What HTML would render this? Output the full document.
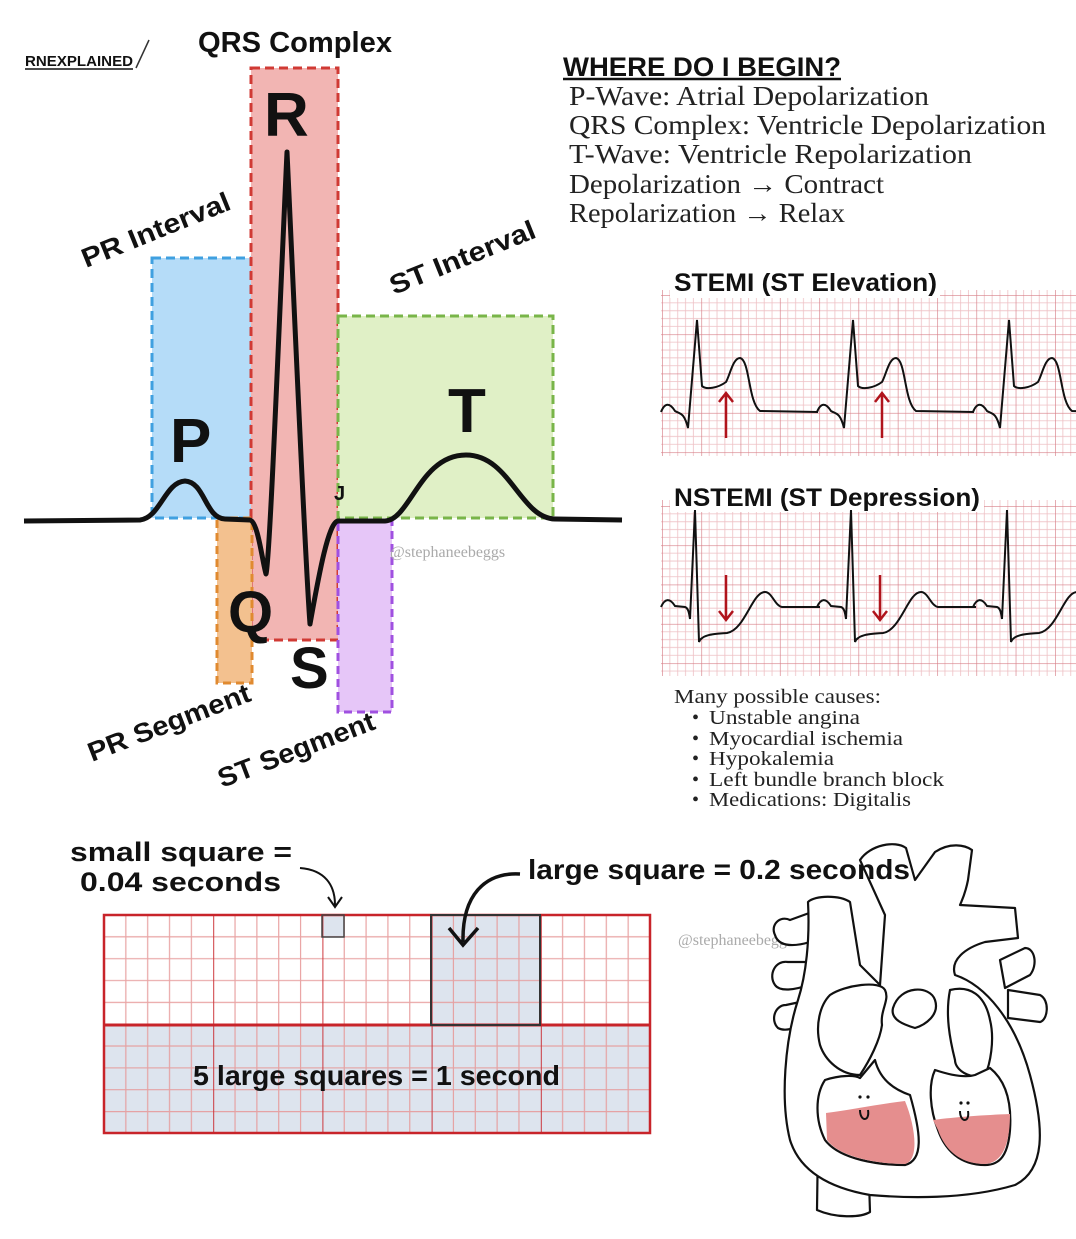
<!DOCTYPE html>
<html><head><meta charset="utf-8"><style>
html,body{margin:0;padding:0;background:#fff}
svg{display:block}
.b{font-family:"Liberation Sans",sans-serif;font-weight:bold;fill:#111}
.s{font-family:"Liberation Serif",serif;fill:#222}
</style></head><body>
<svg width="1076" height="1239" viewBox="0 0 1076 1239" xmlns="http://www.w3.org/2000/svg">
<defs>
<pattern id="ecg" x="662" y="295" width="39.3" height="39.3" patternUnits="userSpaceOnUse">
<path d="M7.86 0V39.3M15.72 0V39.3M23.58 0V39.3M31.44 0V39.3M0 7.86H39.3M0 15.72H39.3M0 23.58H39.3M0 31.44H39.3" stroke="#eec0c4" stroke-width="0.8"/>
<path d="M0 0V39.3M0 0H39.3" stroke="#d77f88" stroke-width="1.3"/>
</pattern>
<pattern id="ecg2" x="662" y="506" width="39.3" height="39.3" patternUnits="userSpaceOnUse">
<path d="M7.86 0V39.3M15.72 0V39.3M23.58 0V39.3M31.44 0V39.3M0 7.86H39.3M0 15.72H39.3M0 23.58H39.3M0 31.44H39.3" stroke="#eec0c4" stroke-width="0.8"/>
<path d="M0 0V39.3M0 0H39.3" stroke="#d77f88" stroke-width="1.3"/>
</pattern>
<pattern id="big" x="104" y="915" width="109.2" height="109.2" patternUnits="userSpaceOnUse">
<path d="M21.84 0V109.2M43.68 0V109.2M65.52 0V109.2M87.36 0V109.2M0 21.84H109.2M0 43.68H109.2M0 65.52H109.2M0 87.36H109.2" stroke="#e69a9a" stroke-width="1.2"/>
<path d="M0 0V109.2M0 0H109.2" stroke="#c8242a" stroke-width="2"/>
</pattern>
</defs>

<!-- logo -->
<text x="25" y="66" class="b" font-size="15" textLength="108" lengthAdjust="spacingAndGlyphs">RNEXPLAINED</text>
<path d="M25 69 H133" stroke="#111" stroke-width="1.5"/>
<path d="M136 68 L149 40" stroke="#333" stroke-width="1.5"/>

<!-- boxes -->
<rect x="152" y="258" width="100" height="260" fill="#b5dcf8" stroke="#3fa0e0" stroke-width="3" stroke-dasharray="9,5"/>
<rect x="251" y="68" width="87" height="572" fill="#f2b5b3" stroke="#d03a34" stroke-width="3" stroke-dasharray="9,5"/>
<rect x="338" y="316" width="215" height="202" fill="#e0f0c6" stroke="#79b549" stroke-width="3" stroke-dasharray="9,5"/>
<rect x="217" y="518" width="35" height="165" fill="#f3c18f" stroke="#e08a30" stroke-width="3" stroke-dasharray="8,5"/>
<rect x="338" y="520" width="54" height="192" fill="#e6c6f8" stroke="#a050e0" stroke-width="3" stroke-dasharray="8,5"/>

<!-- main ECG -->
<path d="M24 521 L140 520 C160 518 165 482 185 481 C205 482 205 518 225 519 L250 520 C258 522 262 560 266 574 C270 560 280 300 287 152 C294 300 305 560 310 624 C318 580 328 522 338 521 L385 521 C410 520 420 455 466 455 C510 455 520 518 555 519 L622 520" fill="none" stroke="#111" stroke-width="5" stroke-linejoin="round"/>

<text x="198" y="52" class="b" font-size="29" textLength="194" lengthAdjust="spacingAndGlyphs">QRS Complex</text>
<text x="264" y="136" class="b" font-size="62">R</text>
<text x="170" y="462" class="b" font-size="62">P</text>
<text x="448" y="432" class="b" font-size="62">T</text>
<text x="228" y="632" class="b" font-size="58">Q</text>
<text x="290" y="688" class="b" font-size="58">S</text>
<text x="334" y="500" class="b" font-size="20">J</text>
<text class="b" font-size="27" transform="translate(86 268) rotate(-22)" textLength="158" lengthAdjust="spacingAndGlyphs">PR Interval</text>
<text class="b" font-size="27" transform="translate(394 295) rotate(-22)" textLength="155" lengthAdjust="spacingAndGlyphs">ST Interval</text>
<text class="b" font-size="27" transform="translate(92 762) rotate(-21)" textLength="172" lengthAdjust="spacingAndGlyphs">PR Segment</text>
<text class="b" font-size="27" transform="translate(222 788) rotate(-21)" textLength="166" lengthAdjust="spacingAndGlyphs">ST Segment</text>
<text x="390" y="557" class="s" font-size="16" style="fill:#aaa">@stephaneebeggs</text>

<!-- right text -->
<text x="563" y="76" class="b" font-size="27" textLength="278" lengthAdjust="spacingAndGlyphs">WHERE DO I BEGIN?</text>
<path d="M563 79 H841" stroke="#111" stroke-width="2.5"/>
<g class="s" font-size="27">
<text x="569" y="105" textLength="360" lengthAdjust="spacingAndGlyphs">P-Wave: Atrial Depolarization</text>
<text x="569" y="134" textLength="477" lengthAdjust="spacingAndGlyphs">QRS Complex: Ventricle Depolarization</text>
<text x="569" y="163" textLength="403" lengthAdjust="spacingAndGlyphs">T-Wave: Ventricle Repolarization</text>
<text x="569" y="193" textLength="315" lengthAdjust="spacingAndGlyphs">Depolarization → Contract</text>
<text x="569" y="222" textLength="276" lengthAdjust="spacingAndGlyphs">Repolarization → Relax</text>
</g>

<!-- STEMI -->
<rect x="661" y="290" width="415" height="166" fill="url(#ecg)"/>
<rect x="670" y="262" width="270" height="36" fill="#fff"/>
<text x="674" y="291" class="b" font-size="25" textLength="263" lengthAdjust="spacingAndGlyphs">STEMI (ST Elevation)</text>
<g fill="none" stroke="#111" stroke-width="2">
<path id="st1" d="M661 412 C665 402 670 403 675 411 C680 414 684 412 688 428 L697 320 L702 386 C706 390 718 388 726 382 C730 375 733 358 740 358 C750 360 748 402 760 411 L818 412"/>
<use href="#st1" transform="translate(156 0)"/>
<use href="#st1" transform="translate(312 0)"/>
</g>
<g stroke="#b0141c" stroke-width="2.5" fill="none">
<path d="M726 438V394M719 402L726 393L733 402"/>
<path d="M882 438V394M875 402L882 393L889 402"/>
</g>

<!-- NSTEMI -->
<rect x="661" y="500" width="415" height="176" fill="url(#ecg2)"/>
<rect x="670" y="478" width="314" height="34" fill="#fff"/>
<text x="674" y="506" class="b" font-size="25" textLength="306" lengthAdjust="spacingAndGlyphs">NSTEMI (ST Depression)</text>
<g fill="none" stroke="#111" stroke-width="2">
<path id="ns1" d="M661 607 C665 598 670 598 675 606 L685 607 C688 608 689 612 690 619 L695 510 L699 642 C702 634 715 634 727 633 C745 630 752 592 765 592 C772 592 775 606 782 607 L820 607"/>
<use href="#ns1" transform="translate(156 0)"/>
<use href="#ns1" transform="translate(312 0)"/>
</g>
<g stroke="#b0141c" stroke-width="2.5" fill="none">
<path d="M726 575V619M719 611L726 620L733 611"/>
<path d="M880 575V619M873 611L880 620L887 611"/>
</g>

<g class="s" font-size="20">
<text x="674" y="703" textLength="207" lengthAdjust="spacingAndGlyphs">Many possible causes:</text>
<text x="692" y="724">•</text><text x="709" y="724" textLength="151" lengthAdjust="spacingAndGlyphs">Unstable angina</text>
<text x="692" y="745">•</text><text x="709" y="745" textLength="194" lengthAdjust="spacingAndGlyphs">Myocardial ischemia</text>
<text x="692" y="765">•</text><text x="709" y="765" textLength="125" lengthAdjust="spacingAndGlyphs">Hypokalemia</text>
<text x="692" y="786">•</text><text x="709" y="786" textLength="235" lengthAdjust="spacingAndGlyphs">Left bundle branch block</text>
<text x="692" y="806">•</text><text x="709" y="806" textLength="202" lengthAdjust="spacingAndGlyphs">Medications: Digitalis</text>
</g>

<!-- bottom grid -->
<rect x="104" y="1025" width="546" height="108" fill="#dde4ee"/>
<rect x="431" y="915" width="109" height="110" fill="#dde4ee"/>
<rect x="322" y="915" width="22" height="22" fill="#dde4ee"/>
<rect x="104" y="915" width="546" height="218" fill="url(#big)" opacity="0.9"/>
<rect x="104" y="915" width="546" height="218" fill="none" stroke="#c8242a" stroke-width="2.5"/>
<path d="M104 1025H650" stroke="#c8242a" stroke-width="3"/>
<rect x="431" y="915" width="109" height="110" fill="none" stroke="#333" stroke-width="2"/>
<rect x="322" y="915" width="22" height="22" fill="none" stroke="#444" stroke-width="1.5"/>
<text x="193" y="1085" class="b" font-size="28" textLength="367" lengthAdjust="spacingAndGlyphs">5 large squares = 1 second</text>

<text x="70" y="861" class="b" font-size="27" textLength="222" lengthAdjust="spacingAndGlyphs">small square =</text>
<text x="80" y="891" class="b" font-size="27" textLength="201" lengthAdjust="spacingAndGlyphs">0.04 seconds</text>
<path d="M300 868 C325 870 335 885 335 905 M328 897 L335 907 L342 897" fill="none" stroke="#111" stroke-width="2"/>
<text x="678" y="945" class="s" font-size="16" style="fill:#aaa">@stephaneebeggs</text>

<!-- heart -->
<g fill="#fff" stroke="#111" stroke-width="2.2" stroke-linejoin="round">
<path d="M790 920 C780 915 770 925 775 935 C778 945 790 948 810 942 L812 912 Z"/>
<path d="M788 962 C775 960 768 975 775 985 C780 992 795 990 808 985 L806 962 Z"/>
<path d="M786 1005 C775 1005 770 1020 778 1028 C785 1032 795 1028 802 1025 L800 1002 Z"/>
<path d="M1000 960 L1025 948 C1035 948 1038 965 1030 975 L1005 988 Z"/>
<path d="M1008 990 L1040 995 C1050 1000 1048 1020 1040 1022 L1008 1018 Z"/>
<path d="M818 1140 L817 1210 C835 1218 860 1218 870 1212 L868 1150 Z"/>
<path d="M808 902 C815 895 840 895 850 902 L860 965 L880 985 L885 915 L860 860 C870 845 895 840 906 848 L915 880 L935 852 C950 842 965 845 972 850 L968 880 C965 895 962 900 960 905 L1015 908 L1018 938 L985 942 C965 948 950 960 955 975 C985 985 1015 1020 1030 1075 C1045 1130 1045 1170 1015 1185 C965 1200 905 1198 870 1195 C830 1188 800 1172 790 1140 C780 1100 785 1040 798 1000 C806 975 810 940 808 902 Z"/>
<path d="M830 995 C845 985 880 980 885 990 C890 1000 880 1010 882 1025 C880 1040 870 1060 860 1075 C840 1075 825 1060 820 1045 C815 1025 820 1005 830 995 Z"/>
<path d="M893 1008 C900 985 930 985 935 1000 C940 1015 925 1025 915 1028 C905 1025 890 1020 893 1008 Z"/>
<path d="M950 990 C970 985 985 995 990 1020 C995 1040 990 1065 985 1075 C970 1080 955 1070 955 1060 C950 1040 945 1015 950 990 Z"/>
<path d="M825 1080 C840 1075 855 1075 860 1078 L875 1060 C880 1080 895 1090 910 1095 C920 1130 925 1160 905 1165 C880 1165 840 1160 825 1140 C815 1120 815 1095 825 1080 Z"/>
<path d="M935 1070 C950 1075 965 1078 975 1075 L990 1068 C1005 1080 1012 1100 1010 1130 C1008 1155 1000 1165 985 1165 C960 1165 945 1150 938 1130 C930 1110 928 1085 935 1070 Z"/>
</g>
<path d="M826 1113 C850 1110 880 1104 905 1101 C915 1125 920 1160 905 1164 C880 1164 840 1158 827 1140 Z" fill="#e58e8e"/>
<path d="M933 1120 C955 1117 985 1115 1010 1114 C1010 1145 1002 1163 985 1164 C960 1164 945 1150 938 1130 Z" fill="#e58e8e"/>
<g stroke="#111" stroke-width="2" fill="none">
<path d="M860 1110 C860 1122 870 1122 868 1110"/><path d="M960 1111 C960 1123 970 1123 968 1111"/>
</g>
<g fill="#111"><circle cx="860" cy="1097" r="1.6"/><circle cx="868" cy="1097" r="1.6"/><circle cx="961" cy="1103" r="1.6"/><circle cx="968" cy="1103" r="1.6"/></g>

<text x="528" y="879" class="b" font-size="28" textLength="382" lengthAdjust="spacingAndGlyphs">large square = 0.2 seconds</text>
<path d="M520 874 C485 872 462 895 463 942 M449 928 L463 945 L478 928" fill="none" stroke="#111" stroke-width="3.5"/>
</svg>
</body></html>
